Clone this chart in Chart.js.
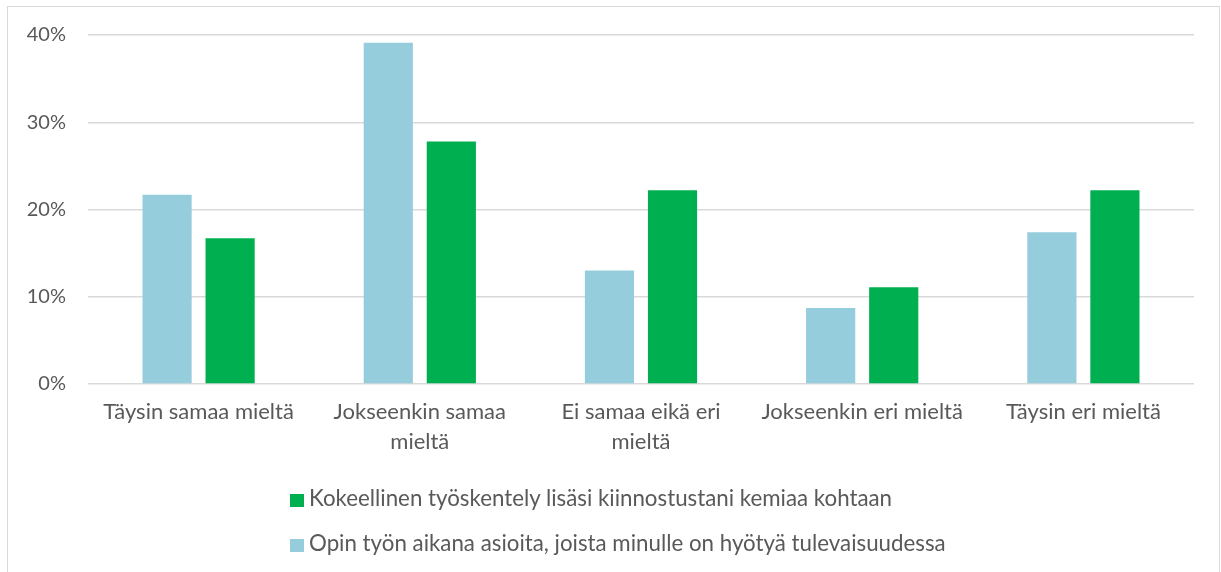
<!DOCTYPE html>
<html>
<head>
<meta charset="utf-8">
<script src="https://cdn.jsdelivr.net/npm/chart.js@4/dist/chart.umd.min.js"></script>
<style>
  html, body { margin: 0; padding: 0; background: #fff; }
  #wrap { position: relative; width: 1221px; height: 572px; overflow: hidden; }
  #frame { position: absolute; left: 7px; top: 6px; width: 1213px; height: 600px; border: 1px solid #d9d9d9; box-sizing: border-box; }
  #chart { position: absolute; left: 0; top: 0; }
  #legend { position: absolute; left: 0; top: 484px; width: 1221px; font-family: Lato, "Open Sans", sans-serif; font-size: 22.3px; color: #595959; }
  .item { position: absolute; left: 290px; white-space: nowrap; line-height: 28px; }
  .box { display: inline-block; width: 14px; height: 13px; margin-right: 5px; vertical-align: -1px; }
</style>
</head>
<body>
<div id="wrap">
  <div id="frame"></div>
  <canvas id="chart" width="1221" height="572"></canvas>
  <div id="legend"></div>
</div>
<script>
// categories and values (percent)
const categories = [
    'Täysin samaa mieltä',
    ['Jokseenkin samaa', 'mieltä'],
    ['Ei samaa eikä eri', 'mieltä'],
    'Jokseenkin eri mieltä',
    'Täysin eri mieltä'
];
const opinValues = [21.7, 39.1, 13.0, 8.7, 17.4];
const kokeellinenValues = [16.7, 27.8, 22.2, 11.1, 22.2];
const seriesNames = [
    'Opin työn aikana asioita, joista minulle on hyötyä tulevaisuudessa',
    'Kokeellinen työskentely lisäsi kiinnostustani kemiaa kohtaan'
];
const seriesColors = ['#95cddd', '#00af50'];
const yTicks = [0, 10, 20, 30, 40];

const FONT = 'Lato, "Open Sans", sans-serif';
const TEXT = '#595959';

const datasets = [opinValues, kokeellinenValues].map((vals, i) => ({
    label: seriesNames[i],
    data: vals,
    backgroundColor: seriesColors[i],
    borderWidth: 0,
    barPercentage: 0.78,
    categoryPercentage: 0.57
}));

new Chart(document.getElementById('chart'), {
    type: 'bar',
    data: { labels: categories, datasets: datasets },
    options: {
        responsive: false,
        animation: false,
        layout: { padding: { top: 35, right: 27, left: 0, bottom: 0 } },
        plugins: { legend: { display: false }, tooltip: { enabled: false } },
        scales: {
            x: {
                grid: { display: false, drawTicks: false },
                border: { display: false },
                ticks: { color: TEXT, font: { family: FONT, size: 22, lineHeight: 1.36 }, padding: 13, maxRotation: 0, autoSkip: false },
                afterFit: s => { s.height = 188; }
            },
            y: {
                min: 0,
                max: 40,
                afterBuildTicks: s => { s.ticks = yTicks.map(v => ({ value: v })); },
                grid: { color: '#d9d9d9', lineWidth: 1.5, drawTicks: false },
                border: { display: false },
                ticks: { color: TEXT, font: { family: FONT, size: 20 }, padding: 22, callback: v => v + '%' },
                afterFit: s => { s.width = 88; }
            }
        }
    }
});

// legend, in reverse order like the original
const legend = document.getElementById('legend');
[1, 0].forEach((idx, row) => {
    const el = document.createElement('div');
    el.className = 'item';
    el.style.top = (row * 45) + 'px';
    el.innerHTML = '<span class="box" style="background:' + seriesColors[idx] + '"></span>' + seriesNames[idx];
    legend.appendChild(el);
});
</script>
</body>
</html>
